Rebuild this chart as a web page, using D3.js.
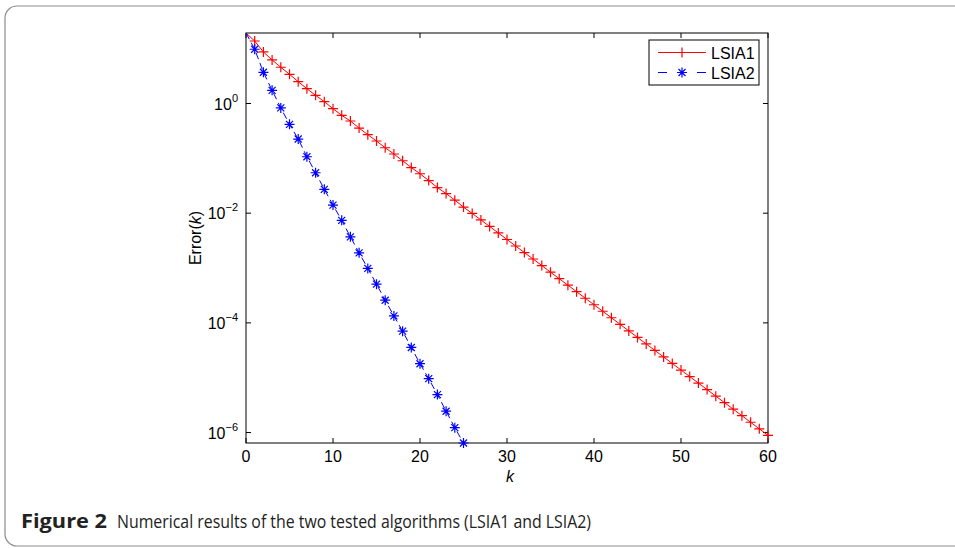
<!DOCTYPE html>
<html>
<head>
<meta charset="utf-8">
<script src="https://cdn.jsdelivr.net/npm/d3@7"></script>
<style>
  body { margin: 0; background: #fff; }
  svg { display: block; }
  .tick-label { font-family: "Liberation Sans", Arial, sans-serif; font-size: 16px; fill: #000; }
</style>
</head>
<body>
<div id="chart-area"></div>
<script>
// data (k = 0 .. n)
const LSIA1 = [19.3, 13.8, 8.71, 6.22, 4.58, 3.41, 2.50, 1.86, 1.41, 1.08, 0.804,
  0.609, 0.480, 0.357, 0.270, 0.207, 0.156, 0.120, 0.0904, 0.0679, 0.0524,
  0.0394, 0.0293, 0.0228, 0.0173, 0.0129, 0.0099, 7.53e-3, 5.73e-3, 4.36e-3, 3.31e-3,
  2.52e-3, 1.91e-3, 1.46e-3, 1.11e-3, 8.41e-4, 6.40e-4, 4.86e-4, 3.70e-4, 2.81e-4, 2.14e-4,
  1.63e-4, 1.24e-4, 9.4e-5, 7.14e-5, 5.43e-5, 4.13e-5, 3.14e-5, 2.39e-5, 1.82e-5, 1.38e-5,
  1.05e-5, 7.98e-6, 6.07e-6, 4.61e-6, 3.51e-6, 2.67e-6, 2.03e-6, 1.54e-6, 1.17e-6, 8.91e-7]
const LSIA2 = [19.3, 9.75, 3.71, 1.74, 0.83, 0.417, 0.225, 0.107, 0.0546, 0.0272, 0.01406,
  0.0074, 0.00371, 0.00189, 9.84e-4, 5.08e-4, 2.59e-4, 1.34e-4, 7.06e-5, 3.56e-5, 1.80e-5,
  9.6e-6, 4.93e-6, 2.45e-6, 1.23e-6, 6.45e-7]
const X_TICKS = [0, 10, 20, 30, 40, 50, 60]
const Y_TICKS = [1e0, 1e-2, 1e-4, 1e-6]
const Y_EXP = ["0", "\u22122", "\u22124", "\u22126"]
const SERIES = ["LSIA1", "LSIA2"]

const MARGIN = {LEFT: 246, TOP: 33}
const WIDTH = 768 - 246
const HEIGHT = 443 - 33

const svg = d3.select("#chart-area").append("svg")
  .attr("width", 955)
  .attr("height", 548)

// outer frame
svg.append("rect")
  .attr("x", 5).attr("y", 6)
  .attr("width", 980).attr("height", 540)
  .attr("rx", 12)
  .attr("fill", "none")
  .attr("stroke", "#8c8c8c")
  .attr("stroke-width", 1.2)

const g = svg.append("g")
  .attr("transform", `translate(${MARGIN.LEFT},${MARGIN.TOP})`)

const x = d3.scaleLinear().domain([0, 60]).range([0, WIDTH])
const y = d3.scaleLog().domain([6.45e-7, 19.3]).range([HEIGHT, 0])

// ticks (inside, on all four sides)
const TL = 5
X_TICKS.forEach(t => {
  g.append("line").attr("x1", x(t)).attr("x2", x(t)).attr("y1", HEIGHT).attr("y2", HEIGHT - TL).attr("stroke", "#000")
  g.append("line").attr("x1", x(t)).attr("x2", x(t)).attr("y1", 0).attr("y2", TL).attr("stroke", "#000")
  g.append("text").attr("class", "tick-label")
    .attr("x", x(t)).attr("y", HEIGHT + 19)
    .attr("text-anchor", "middle")
    .text(t)
})
Y_TICKS.forEach((t, i) => {
  g.append("line").attr("x1", 0).attr("x2", TL).attr("y1", y(t)).attr("y2", y(t)).attr("stroke", "#000")
  g.append("line").attr("x1", WIDTH).attr("x2", WIDTH - TL).attr("y1", y(t)).attr("y2", y(t)).attr("stroke", "#000")
  const lab = g.append("text").attr("class", "tick-label")
    .attr("x", -8).attr("y", y(t) + 6)
    .attr("text-anchor", "end")
  lab.append("tspan").text("10")
  lab.append("tspan").attr("dy", -8).style("font-size", "11px").text(Y_EXP[i])
})

// axis box
g.append("rect")
  .attr("width", WIDTH).attr("height", HEIGHT)
  .attr("fill", "none").attr("stroke", "#000").attr("stroke-width", 1)

// axis titles
g.append("text").attr("class", "tick-label")
  .attr("x", x(30) + 3).attr("y", HEIGHT + 39)
  .attr("text-anchor", "middle")
  .style("font-style", "italic")
  .text("k")
const yt = g.append("text").attr("class", "tick-label")
  .attr("transform", `translate(-45,${HEIGHT / 2}) rotate(-90)`)
  .attr("text-anchor", "middle")
yt.append("tspan").text("Error(")
yt.append("tspan").style("font-style", "italic").text("k")
yt.append("tspan").text(")")

const plusPath = "M-5,0H5M0,-5V5"
const starPath = "M-5,0H5M0,-5V5M-3.5,-3.5L3.5,3.5M-3.5,3.5L3.5,-3.5"

const line = d3.line()
  .x((d, i) => x(i))
  .y(d => y(d))

g.append("path")
  .datum(LSIA1)
  .attr("d", line)
  .attr("fill", "none").attr("stroke", "#ff0000").attr("stroke-width", 1)
g.append("path")
  .datum(LSIA2)
  .attr("d", line)
  .attr("fill", "none").attr("stroke", "#0000ff").attr("stroke-width", 1)
  .attr("stroke-dasharray", "7,4")

g.selectAll(".m1").data(LSIA1.slice(1))
  .enter().append("path")
  .attr("class", "m1")
  .attr("transform", (d, i) => `translate(${x(i + 1)},${y(d)})`)
  .attr("d", plusPath)
  .attr("stroke", "#ff0000").attr("stroke-width", 1.2)

g.selectAll(".m2").data(LSIA2.slice(1))
  .enter().append("path")
  .attr("class", "m2")
  .attr("transform", (d, i) => `translate(${x(i + 1)},${y(d)})`)
  .attr("d", starPath)
  .attr("stroke", "#0000ff").attr("stroke-width", 1.2)

// legend
const lg = svg.append("g").attr("transform", "translate(649,40)")
lg.append("rect").attr("width", 110).attr("height", 45)
  .attr("fill", "#fff").attr("stroke", "#000")
const colors = ["#ff0000", "#0000ff"]
SERIES.forEach((s, i) => {
  const yy = 12.5 + i * 20
  lg.append("line").attr("x1", 9).attr("x2", 57).attr("y1", yy).attr("y2", yy)
    .attr("stroke", colors[i])
    .attr("stroke-dasharray", i === 1 ? "9,30" : null)
  if (i === 1) {
    lg.append("line").attr("x1", 48).attr("x2", 57).attr("y1", yy).attr("y2", yy).attr("stroke", colors[i])
  }
  lg.append("path").attr("transform", `translate(33,${yy})`)
    .attr("d", i === 0 ? plusPath : starPath)
    .attr("stroke", colors[i]).attr("stroke-width", 1.2)
  lg.append("text").attr("class", "tick-label")
    .attr("x", 62).attr("y", yy + 6)
    .text(s)
})

// caption
const cap = svg.append("g")
  .style("font-family", "'Open Sans', sans-serif")
  .attr("fill", "#222")
cap.append("text")
  .attr("x", 21).attr("y", 528)
  .style("font-size", "19.5px")
  .attr("textLength", 86).attr("lengthAdjust", "spacingAndGlyphs")
  .style("font-weight", "bold")
  .text("Figure 2")
cap.append("text")
  .attr("x", 117).attr("y", 528)
  .style("font-size", "18px")
  .attr("textLength", 474).attr("lengthAdjust", "spacingAndGlyphs")
  .text("Numerical results of the two tested algorithms (LSIA1 and LSIA2)")
</script>
</body>
</html>
